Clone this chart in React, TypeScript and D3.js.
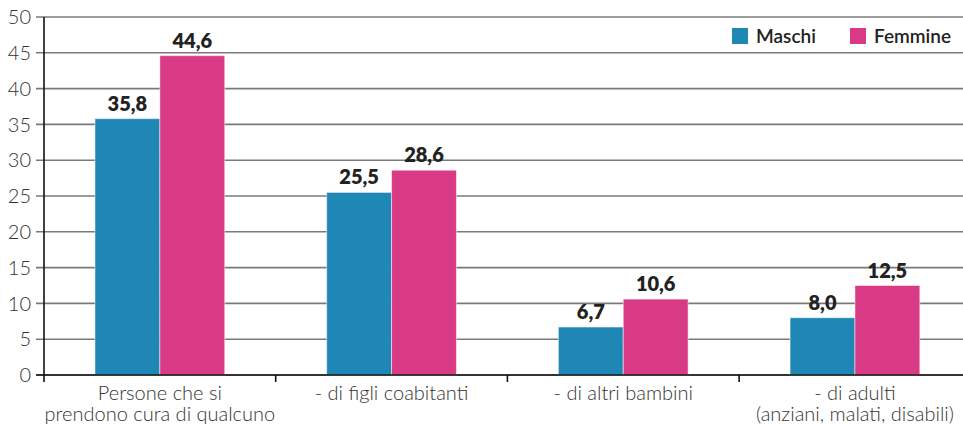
import * as d3 from "d3";

const categories = [
  ["Persone che si", "prendono cura di qualcuno"],
  ["- di figli coabitanti"],
  ["- di altri bambini"],
  ["- di adulti", "(anziani, malati, disabili)"],
];
const series = ["Maschi", "Femmine"];
const maschi = [35.8, 25.5, 6.7, 8.0];
const femmine = [44.6, 28.6, 10.6, 12.5];
const yTicks = [0, 5, 10, 15, 20, 25, 30, 35, 40, 45, 50];

const COLORS = ["#1f87b5", "#d93a85"];
const FONT = "Lato, 'Open Sans', sans-serif";

export default function App() {
  const width = 963;
  const height = 425;
  const left = 44;
  const bottom = 375;
  const top = 17;

  const x = d3
    .scaleBand<number>()
    .domain(d3.range(categories.length))
    .range([left, left + 4 * 231.7])
    .paddingInner(0.44)
    .paddingOuter(0.22);
  const inner = d3
    .scaleBand<number>()
    .domain([0, 1])
    .range([0, x.bandwidth()]);
  const y = d3.scaleLinear().domain([0, 50]).range([bottom, top]);
  const step = x.step();
  const fmt = (v: number) => v.toFixed(1).replace(".", ",");
  const values = [maschi, femmine];

  return (
    <svg
      width={width}
      height={height}
      style={{ position: "fixed", left: 0, top: 0, background: "#fff" }}
      fontFamily={FONT}
    >
      {/* grid */}
      {yTicks.map((t) => (
        <g key={t}>
          <line
            x1={36}
            x2={width}
            y1={y(t)}
            y2={y(t)}
            stroke="#7a7a7a"
            strokeWidth={1.6}
          />
          <text
            x={31}
            y={y(t)}
            dy="0.36em"
            textAnchor="end"
            fontSize={20}
            fontWeight={300}
            fill="#333"
          >
            {t}
          </text>
        </g>
      ))}
      {/* bars */}
      {values.map((vals, s) =>
        vals.map((v, i) => (
          <rect
            key={`${s}-${i}`}
            x={(x(i) ?? 0) + (inner(s) ?? 0)}
            y={y(v)}
            width={inner.bandwidth()}
            height={bottom - y(v)}
            fill={COLORS[s]}
            stroke="#ffffff"
            strokeOpacity={0.5}
            strokeWidth={1}
          />
        ))
      )}
      {/* value labels */}
      {values.map((vals, s) =>
        vals.map((v, i) => (
          <text
            key={`l-${s}-${i}`}
            x={(x(i) ?? 0) + (inner(s) ?? 0) + inner.bandwidth() / 2}
            y={y(v) - 8}
            textAnchor="middle"
            fontSize={20}
            fontWeight={800}
            fill="#222"
          >
            {fmt(v)}
          </text>
        ))
      )}
      {/* axes */}
      <line x1={left} x2={left} y1={top} y2={bottom} stroke="#111" strokeWidth={1.6} />
      <line x1={36} x2={width} y1={bottom} y2={bottom} stroke="#111" strokeWidth={1.6} />
      {d3.range(categories.length + 1).map((i) => (
        <line
          key={`t-${i}`}
          x1={left + i * step}
          x2={left + i * step}
          y1={bottom}
          y2={bottom + 7}
          stroke="#111"
          strokeWidth={1.6}
        />
      ))}
      {/* category labels */}
      {categories.map((lines, i) => (
        <text
          key={`c-${i}`}
          x={(x(i) ?? 0) + x.bandwidth() / 2}
          textAnchor="middle"
          fontSize={20}
          fontWeight={300}
          fill="#333"
        >
          {lines.map((ln, k) => (
            <tspan key={k} x={(x(i) ?? 0) + x.bandwidth() / 2} y={400 + k * 21}>
              {ln}
            </tspan>
          ))}
        </text>
      ))}
      {/* legend */}
      {series.map((name, s) => (
        <g key={name} transform={`translate(${732 + s * 118},28)`}>
          <rect width={16} height={16} fill={COLORS[s]} />
          <text x={24} y={15} fontSize={19} fontWeight={600} fill="#222">
            {name}
          </text>
        </g>
      ))}
    </svg>
  );
}
